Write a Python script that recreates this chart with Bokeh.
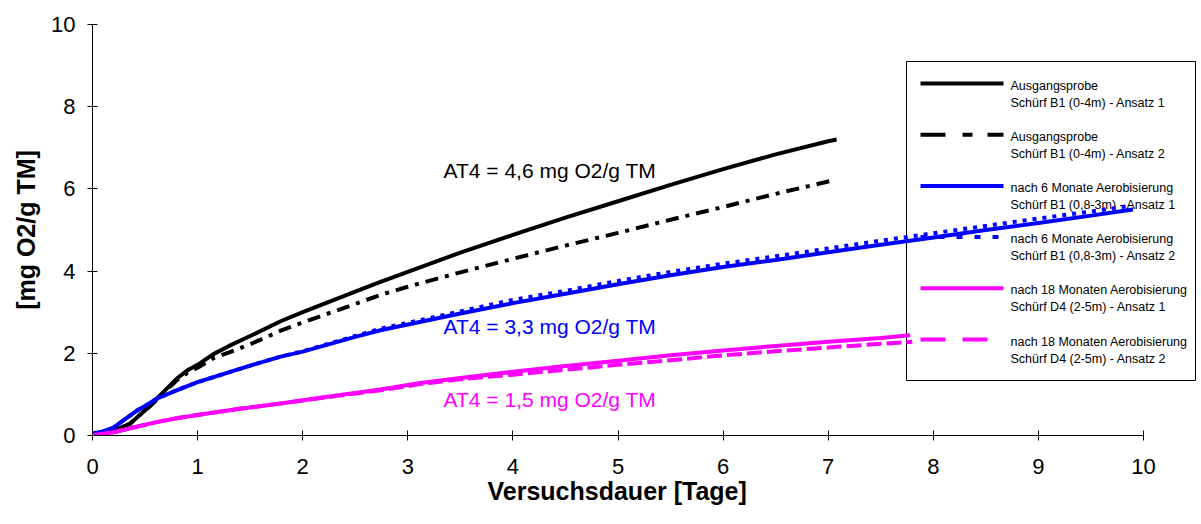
import numpy as np
from bokeh.plotting import figure
from bokeh.models import Range1d, FixedTicker, Label, Title
from bokeh.embed import file_html
from bokeh.resources import INLINE
from bokeh.core.properties import value

# ---- measured oxygen uptake [mg O2/g TM] over test duration [days] ----
days_b1_1 = [0, 0.1, 0.2, 0.3, 0.36, 0.45, 0.55, 0.615, 0.7, 0.8, 0.9, 1.0, 1.15, 1.3, 1.5,
             1.79, 2.0, 2.5, 2.74, 3.0, 3.5, 4.0, 4.5, 5.0, 5.5, 6.0, 6.5, 7.0, 7.08]
o2_b1_1 = [0, 0.03, 0.12, 0.22, 0.29, 0.5, 0.73, 0.9, 1.12, 1.38, 1.58, 1.72, 1.98, 2.18, 2.42,
           2.78, 3.0, 3.5, 3.74, 3.98, 4.45, 4.88, 5.3, 5.7, 6.1, 6.48, 6.84, 7.16, 7.2]

days_b1_2 = [0, 0.1, 0.2, 0.3, 0.36, 0.45, 0.55, 0.615, 0.7, 0.8, 0.9, 1.0, 1.15, 1.3, 1.5,
             1.79, 2.0, 2.5, 2.74, 3.0, 3.5, 4.0, 4.5, 5.0, 5.5, 6.0, 6.5, 7.0, 7.04]
o2_b1_2 = [0, 0.03, 0.12, 0.22, 0.29, 0.5, 0.72, 0.88, 1.1, 1.34, 1.52, 1.65, 1.88, 2.02, 2.22,
           2.55, 2.75, 3.2, 3.42, 3.62, 3.97, 4.3, 4.62, 4.93, 5.25, 5.56, 5.88, 6.18, 6.2]

days_b1a_1 = [0, 0.1, 0.2, 0.3, 0.42, 0.5, 0.615, 0.8, 1.0, 1.25, 1.5, 1.79, 2.0, 2.5, 2.74, 3.0,
              3.5, 4.0, 4.5, 5.0, 5.5, 6.0, 6.5, 7.0, 7.5, 8.0, 8.5, 9.0, 9.5, 9.9]
o2_b1a_1 = [0.05, 0.1, 0.19, 0.38, 0.6, 0.72, 0.9, 1.1, 1.3, 1.5, 1.7, 1.92, 2.04, 2.4, 2.56, 2.7,
            2.97, 3.22, 3.45, 3.68, 3.9, 4.1, 4.27, 4.46, 4.64, 4.82, 5.0, 5.17, 5.35, 5.5]

days_b1a_2 = [0, 0.1, 0.2, 0.3, 0.42, 0.5, 0.615, 0.8, 1.0, 1.25, 1.5, 1.79, 2.0, 2.5, 2.74, 3.0,
              3.5, 4.0, 4.5, 5.0, 5.5, 6.0, 6.5, 7.0, 7.5, 8.0, 8.5, 9.0, 9.5, 9.85]
o2_b1a_2 = [0.05, 0.1, 0.19, 0.38, 0.6, 0.72, 0.9, 1.1, 1.3, 1.5, 1.7, 1.92, 2.05, 2.42, 2.6, 2.74,
            3.02, 3.3, 3.52, 3.76, 3.98, 4.18, 4.36, 4.55, 4.74, 4.92, 5.1, 5.28, 5.45, 5.58]

days_d4_1 = [0, 0.2, 0.4, 0.6, 0.8, 1.0, 1.4, 1.79, 2.2, 2.74, 3.12, 3.5, 4.0, 4.5, 5.0, 5.5,
             6.0, 6.5, 7.0, 7.5, 7.78]
o2_d4_1 = [0, 0.08, 0.2, 0.32, 0.42, 0.5, 0.65, 0.78, 0.93, 1.12, 1.28, 1.4, 1.55, 1.69, 1.82, 1.95,
           2.07, 2.18, 2.28, 2.37, 2.44]

days_d4_2 = [0, 0.2, 0.4, 0.6, 0.8, 1.0, 1.4, 1.79, 2.2, 2.74, 3.12, 3.5, 4.0, 4.5, 5.0, 5.5,
             6.0, 6.5, 7.0, 7.5, 7.8]
o2_d4_2 = [0, 0.08, 0.2, 0.32, 0.42, 0.5, 0.65, 0.78, 0.92, 1.1, 1.25, 1.37, 1.48, 1.6, 1.72, 1.83,
           1.95, 2.05, 2.14, 2.23, 2.28]

series_names = [
    ("Ausgangsprobe", "Schürf B1 (0-4m) - Ansatz 1"),
    ("Ausgangsprobe", "Schürf B1 (0-4m) - Ansatz 2"),
    ("nach 6 Monate Aerobisierung", "Schürf B1 (0,8-3m) - Ansatz 1"),
    ("nach 6 Monate Aerobisierung", "Schürf B1 (0,8-3m) - Ansatz 2"),
    ("nach 18 Monaten Aerobisierung", "Schürf D4 (2-5m) - Ansatz 1"),
    ("nach 18 Monaten Aerobisierung", "Schürf D4 (2-5m) - Ansatz 2"),
]
x_ticks = list(range(0, 11))
y_ticks = list(range(0, 11, 2))

FONT = "Liberation Sans"
BLACK, BLUE, MAGENTA = "#000000", "#0000FF", "#FF00FF"

series = [
    (days_b1_1, o2_b1_1, BLACK, 4, "solid", "solid"),
    (days_b1_2, o2_b1_2, BLACK, 4, "13 7 4 7", "25 17 10 15"),
    (days_b1a_1, o2_b1a_1, BLUE, 4, "solid", "solid"),
    (days_b1a_2, o2_b1a_2, BLUE, 4, "4 6", "6 12"),
    (days_d4_1, o2_d4_1, MAGENTA, 4, "solid", "solid"),
    (days_d4_2, o2_d4_2, MAGENTA, 4, "15 5", "25 17"),
]

# ---- layout (pixels) ----
W, H = 1201, 524
FL, FR, FT, FB = 92, 1200, 24, 435      # plot frame edges
X10 = 1143                                # pixel of day 10
x_end = 10 * (FR - FL) / (X10 - FL)

p = figure(width=W, height=H, x_range=Range1d(0, x_end), y_range=Range1d(0, 10),
           output_backend="svg", toolbar_location=None,
           min_border_left=FL, min_border_right=W - FR, min_border_top=FT,
           min_border_bottom=H - FB, outline_line_color=None,
           background_fill_color="white", border_fill_color="white")
p.grid.visible = False


def sx(px):
    return (px - FL) / (FR - FL) * x_end


def sy(py):
    return (FB - py) / (FB - FT) * 10


# legend box, drawn first so the curves run across it
LG_L, LG_R, LG_T, LG_B = 906, 1195, 61, 380
p.quad(left=sx(LG_L), right=sx(LG_R), top=sy(LG_T), bottom=sy(LG_B),
       fill_color="white", line_color="black", line_width=1)
row0, row_step = 83, 51.2
txt_x, txt_y1, txt_y2 = [], [], []
txt_1, txt_2 = [], []
for i, ((_, _, col, lw, _, ldash), (l1, l2)) in enumerate(zip(series, series_names)):
    yy = row0 + i * row_step
    p.line([sx(920), sx(1003)], [sy(yy), sy(yy)], line_color=col, line_width=4,
           line_dash=ldash)
    txt_x.append(sx(1010))
    txt_y1.append(sy(yy + 2))
    txt_y2.append(sy(yy + 19))
    txt_1.append(l1)
    txt_2.append(l2)
for ys, ts in ((txt_y1, txt_1), (txt_y2, txt_2)):
    p.text(x=txt_x, y=ys, text=ts, text_font=value(FONT), text_font_size="12.5px",
           text_color="#000000", text_baseline="middle", text_align="left")

# measured curves
for xs, ys, col, lw, dash, _ in series:
    p.line(xs, ys, line_color=col, line_width=lw, line_dash=dash, line_join="round")

# AT4: mean of both batches at day 4
def at4(a, b):
    v = (np.interp(4, *a) + np.interp(4, *b)) / 2
    return "AT4 = " + f"{v:.1f}".replace(".", ",") + " mg O2/g TM"


at4_texts = [
    at4((days_b1_1, o2_b1_1), (days_b1_2, o2_b1_2)),
    at4((days_b1a_1, o2_b1a_1), (days_b1a_2, o2_b1a_2)),
    at4((days_d4_1, o2_d4_1), (days_d4_2, o2_d4_2)),
]
at4_colors = [BLACK, BLUE, MAGENTA]
at4_x = 3.34
at4_y = [6.45, 2.66, 0.88]
for t, c, y in zip(at4_texts, at4_colors, at4_y):
    p.add_layout(Label(x=at4_x, y=y, text=t, text_color=c, text_font=FONT,
                       text_font_size="21px", text_baseline="alphabetic"))

# axes
p.xaxis.bounds = (0, 10)
p.yaxis.bounds = (0, 10)
p.xaxis.ticker = FixedTicker(ticks=x_ticks)
p.yaxis.ticker = FixedTicker(ticks=y_ticks)
for ax in (p.xaxis, p.yaxis):
    ax.axis_line_color = "black"
    ax.axis_line_width = 1
    ax.major_tick_line_color = "black"
    ax.major_tick_in = 5
    ax.major_tick_out = 5
    ax.minor_tick_line_color = None
    ax.major_label_text_font = FONT
    ax.major_label_text_font_size = "22px"
    ax.major_label_text_color = "#000000"
    ax.axis_label_text_font = FONT
    ax.axis_label_text_font_style = "bold"
    ax.axis_label_text_color = "#000000"
p.xaxis.major_label_standoff = 18
p.yaxis.major_label_standoff = 12

# x title, centred under the bounded axis (0..10) rather than the whole frame
x_title = "Versuchsdauer [Tage]"
p.add_layout(Title(text=x_title, align="left", offset=395, standoff=0,
                   vertical_align="top", text_font=FONT, text_font_size="25px",
                   text_font_style="bold", text_color="#000000"), "below")
p.yaxis.axis_label = "[mg O2/g TM]"
p.yaxis.axis_label_text_font_size = "25px"
p.yaxis.axis_label_standoff = 8
p.yaxis.major_label_orientation = "horizontal"

open("out.html", "w").write(file_html(p, INLINE))
